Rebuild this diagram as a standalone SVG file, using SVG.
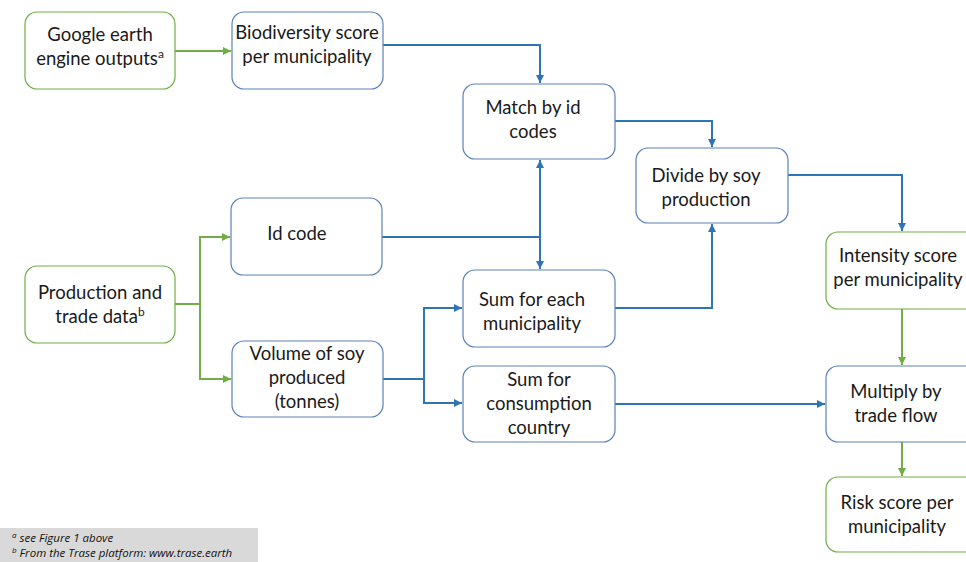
<svg xmlns="http://www.w3.org/2000/svg" width="966" height="562" viewBox="0 0 966 562">
<defs>
<style>
.bx{fill:#fff;stroke-width:1.2}
.g{stroke:#70AD47}
.b{stroke:#5B82B8}
.t{font-family:Lato,"Open Sans","Liberation Sans",sans-serif;font-size:18.5px;fill:#1a1a1a;text-anchor:middle}
.cb{fill:none;stroke:#2E75B6;stroke-width:2}
.cg{fill:none;stroke:#70AD47;stroke-width:2}
.fn{font-family:"Open Sans","Liberation Sans",sans-serif;font-size:11.5px;font-style:italic;fill:#111}
</style>
<marker id="ab" viewBox="0 0 10 10" refX="10" refY="5" markerWidth="4" markerHeight="4" orient="auto" markerUnits="strokeWidth"><path d="M0,0 L10,5 L0,10 z" fill="#2E75B6"/></marker>
<marker id="ag" viewBox="0 0 10 10" refX="10" refY="5" markerWidth="4" markerHeight="4" orient="auto" markerUnits="strokeWidth"><path d="M0,0 L10,5 L0,10 z" fill="#70AD47"/></marker>
</defs>
<rect width="966" height="562" fill="#fff"/>
<g id="connectors">
<path class="cg" d="M175,51 H231" marker-end="url(#ag)"/>
<path class="cb" d="M383,45 H540 V83" marker-end="url(#ab)"/>
<path class="cb" d="M615,121 H712 V147" marker-end="url(#ab)"/>
<path class="cb" d="M788,175 H902 V231" marker-end="url(#ab)"/>
<path class="cg" d="M902,309 V365" marker-end="url(#ag)"/>
<path class="cg" d="M902,442 V476" marker-end="url(#ag)"/>
<path class="cg" d="M175,304 H200 V237 H230" marker-end="url(#ag)"/>
<path class="cg" d="M200,304 V379 H231" marker-end="url(#ag)"/>
<path class="cb" d="M382,237 H540 V160" marker-end="url(#ab)"/>
<path class="cb" d="M540,237 V269" marker-end="url(#ab)"/>
<path class="cb" d="M383,379 H424 V308 H462" marker-end="url(#ab)"/>
<path class="cb" d="M424,379 V403 H462" marker-end="url(#ab)"/>
<path class="cb" d="M615,308 H712 V224" marker-end="url(#ab)"/>
<path class="cb" d="M615,404 H825" marker-end="url(#ab)"/>
</g>
<g id="n-google"><rect class="bx g" x="25" y="12" width="150" height="77" rx="12"/><text class="t" x="100" y="41">Google earth</text><text class="t" x="100" y="65">engine outputs<tspan font-size="12" dy="-7">a</tspan></text></g>
<g id="n-biodiv"><rect class="bx b" x="232" y="12" width="151" height="77" rx="12"/><text class="t" x="307" y="39">Biodiversity score</text><text class="t" x="307" y="63">per municipality</text></g>
<g id="n-match"><rect class="bx b" x="463" y="84" width="152" height="75" rx="12"/><text class="t" x="533" y="114">Match by id</text><text class="t" x="533" y="138">codes</text></g>
<g id="n-divide"><rect class="bx b" x="636" y="148" width="152" height="75" rx="12"/><text class="t" x="706" y="182">Divide by soy</text><text class="t" x="706" y="206">production</text></g>
<g id="n-intensity"><rect class="bx g" x="826" y="232" width="152" height="77" rx="12"/><text class="t" x="898" y="262">Intensity score</text><text class="t" x="898" y="286">per municipality</text></g>
<g id="n-idcode"><rect class="bx b" x="231" y="198" width="151" height="77" rx="12"/><text class="t" x="297" y="240">Id code</text></g>
<g id="n-production"><rect class="bx g" x="25" y="266" width="150" height="77" rx="12"/><text class="t" x="100" y="299">Production and</text><text class="t" x="100" y="323">trade data<tspan font-size="12" dy="-7">b</tspan></text></g>
<g id="n-volume"><rect class="bx b" x="232" y="341" width="151" height="76" rx="12"/><text class="t" x="307" y="360">Volume of soy</text><text class="t" x="307" y="384">produced</text><text class="t" x="307" y="408">(tonnes)</text></g>
<g id="n-sumeach"><rect class="bx b" x="463" y="270" width="152" height="77" rx="12"/><text class="t" x="532" y="306">Sum for each</text><text class="t" x="532" y="330">municipality</text></g>
<g id="n-sumcons"><rect class="bx b" x="463" y="366" width="152" height="76" rx="12"/><text class="t" x="539" y="386">Sum for</text><text class="t" x="539" y="410">consumption</text><text class="t" x="539" y="434">country</text></g>
<g id="n-multiply"><rect class="bx b" x="826" y="366" width="152" height="76" rx="12"/><text class="t" x="896" y="398">Multiply by</text><text class="t" x="896" y="422">trade flow</text></g>
<g id="n-risk"><rect class="bx g" x="826" y="477" width="152" height="75" rx="12"/><text class="t" x="897" y="509">Risk score per</text><text class="t" x="897" y="533">municipality</text></g>
<g id="footnote"><rect x="0" y="528" width="258" height="34" fill="#D9D9D9"/><text class="fn" x="12" y="542"><tspan font-size="8" dy="-4">a</tspan><tspan dy="4"> see Figure 1 above</tspan></text><text class="fn" x="12" y="557"><tspan font-size="8" dy="-4">b</tspan><tspan dy="4"> From the Trase platform: www.trase.earth</tspan></text></g>
</svg>
